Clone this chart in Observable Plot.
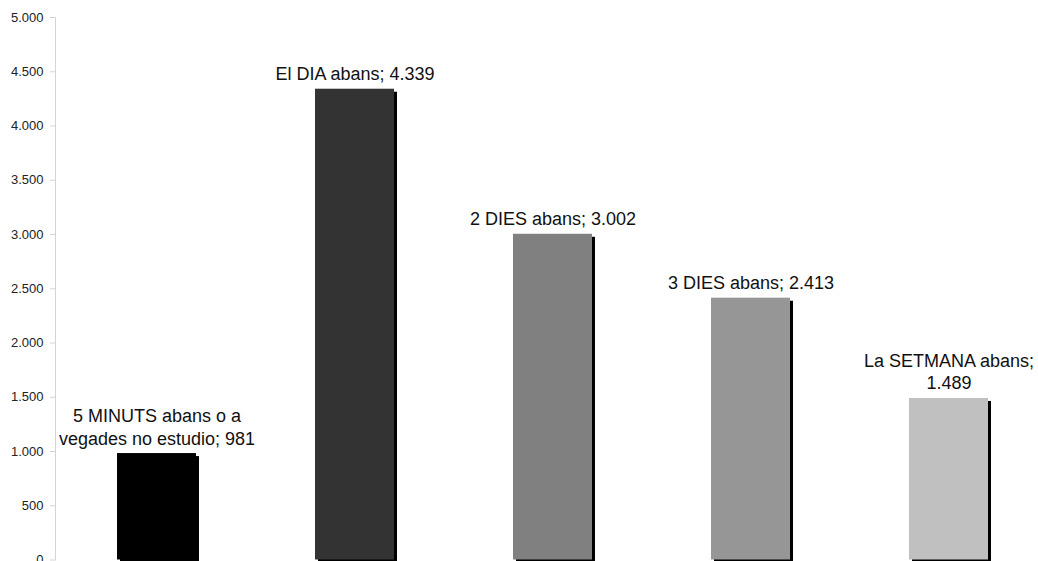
<!DOCTYPE html>
<html>
<head>
<meta charset="utf-8">
<script src="https://cdn.jsdelivr.net/npm/d3@7"></script>
<script src="https://cdn.jsdelivr.net/npm/@observablehq/plot@0.6"></script>
<style>
  html, body { margin: 0; padding: 0; background: #fff; }
  #chart { width: 1038px; height: 561px; overflow: hidden; }
  svg { font-family: "Liberation Sans", Arial, Helvetica, sans-serif; }
</style>
</head>
<body>
<div id="chart"></div>
<script>
const categories = ["5 MINUTS abans o a vegades no estudio", "El DIA abans", "2 DIES abans", "3 DIES abans", "La SETMANA abans"];
const labelLines = [
  ["5 MINUTS abans o a", "vegades no estudio;"],
  ["El DIA abans;"],
  ["2 DIES abans;"],
  ["3 DIES abans;"],
  ["La SETMANA abans;", ""]
];
const values = [981, 4339, 3002, 2413, 1489];
const colors = ["#000000", "#333333", "#808080", "#969696", "#c0c0c0"];
const yTicks = [0, 500, 1000, 1500, 2000, 2500, 3000, 3500, 4000, 4500, 5000];

const loc = d3.formatLocale({decimal: ",", thousands: ".", grouping: [3], currency: ["", ""]});
const fmt = loc.format(",");

const data = categories.map((c, i) => {
  const lines = labelLines[i].slice();
  const last = lines.length - 1;
  lines[last] = lines[last] === "" ? fmt(values[i]) : lines[last] + " " + fmt(values[i]);
  return {category: c, value: values[i], color: colors[i], label: lines.join("\n")};
});

const chart = Plot.plot({
  width: 1038,
  height: 561,
  marginLeft: 55,
  marginRight: 0,
  marginTop: 17,
  marginBottom: 1.5,
  style: {fontFamily: "'Liberation Sans', Arial, Helvetica, sans-serif", background: "#fff"},
  x: {domain: categories, range: [56.5, 1049], paddingInner: 0.6, paddingOuter: 0.3, axis: null},
  y: {domain: [0, 5000], ticks: yTicks, tickFormat: fmt},
  marks: [
    Plot.frame({anchor: "left", stroke: "#d4d4d4"}),
    Plot.axisY({ticks: yTicks, tickSize: 5, tickPadding: 7, tickFormat: fmt, stroke: "#d4d4d4", fill: "#222", fontSize: 13, label: null}),
    Plot.barY(data, {x: "category", y: "value", fill: "#000", dx: 3, dy: 3}),
    Plot.barY(data, {x: "category", y: "value", fill: "color"}),
    Plot.text(data, {x: "category", y: "value", text: "label", lineAnchor: "bottom", dy: -9, fontSize: 18, lineHeight: 1.25, fill: "#111"})
  ]
});
document.getElementById("chart").appendChild(chart);
</script>
</body>
</html>
